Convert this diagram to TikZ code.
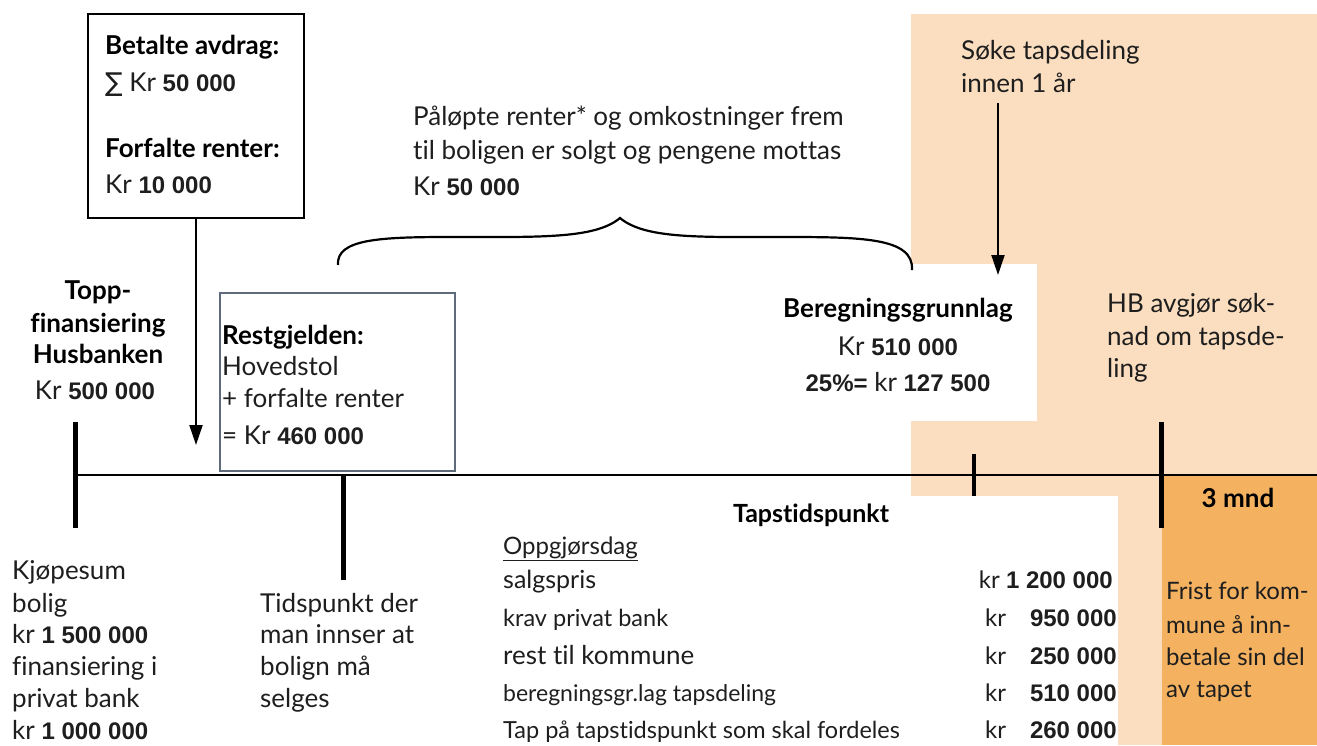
\documentclass[tikz,border=0pt]{standalone}
\usepackage{fontspec}
\setmainfont{Lato}[Ligatures=NoCommon]
\newfontfamily\numfont{Liberation Sans}
\newfontfamily\symfont{DejaVu Sans}
\usetikzlibrary{arrows.meta}
\definecolor{peach}{RGB}{251,222,192}
\definecolor{dorange}{RGB}{244,178,96}
\definecolor{boxgray}{RGB}{95,107,122}
\definecolor{txtc}{RGB}{30,30,30}
\newcommand\nb[1]{{\numfont\bfseries\fontsize{24}{30}\selectfont #1}}
\begin{document}
\begin{tikzpicture}[x=1pt,y=-1pt,
  txt/.style={font=\fontsize{26}{32}\selectfont, text=txtc, inner sep=0pt, text height=19pt, text depth=6pt, anchor=west},
  txtc/.style={txt, anchor=center},
  bld/.style={txt, font=\fontsize{26}{32}\selectfont\bfseries, text=black},
  bldc/.style={bld, anchor=center},
  tab/.style={txt, font=\fontsize{#1}{30}\selectfont},
  tick/.style={line width=5pt},
  arr/.style={line width=2pt, -{Triangle[length=20pt,width=13pt]}},
  frame/.style={draw, line width=2.5pt, inner sep=0pt}]
\useasboundingbox (0,0) rectangle (1317,745);
% shaded areas
\fill[peach] (911,14) rectangle (1317,496);
\fill[white] (911,264) rectangle (1037,421);
\fill[peach] (1118,496) rectangle (1162,745);
\fill[dorange] (1162,475) rectangle (1317,745);
% boxes
\node[frame, minimum width=216pt, minimum height=204pt] (avbox) at (196,116) {};
\node[frame, draw=boxgray, minimum width=235pt, minimum height=178pt] (restbox) at (337.5,382) {};
% timeline
\coordinate (tl0) at (75,475);
\coordinate (tl1) at (1317,475);
\draw[line width=2.5pt] (tl0) -- (tl1);
\coordinate (ta0) at (75,422);   \coordinate (ta1) at (75,528);
\coordinate (tb0) at (343,475);  \coordinate (tb1) at (343,580);
\coordinate (tc0) at (974,454);  \coordinate (tc1) at (974,496);
\coordinate (td0) at (1161,422); \coordinate (td1) at (1161,528);
\draw[tick] (ta0) -- (ta1);
\draw[tick] (tb0) -- (tb1);
\draw[line width=4pt] (tc0) -- (tc1);
\draw[tick] (td0) -- (td1);
% arrows
\coordinate (a1) at (196,445);
\draw[arr] (avbox.south) -- (a1);
\coordinate (a2s) at (998,103);
\coordinate (a2e) at (998,275);
\draw[arr] (a2s) -- (a2e);
% brace
\coordinate (brl) at (338,265);
\coordinate (brt) at (620,218);
\coordinate (brr) at (912,270);
\draw[line width=2.2pt] (brl) .. controls (336,239) and (380,237) .. (450,237)
  .. controls (540,237) and (595,239) .. (brt)
  .. controls (645,239) and (700,237) .. (780,237)
  .. controls (860,237) and (914,237) .. (brr);
% top box text
\node[bld] (t1) at (105,48) {Betalte avdrag:};
\node[txt] (t2) at (105,85) {{\symfont ∑} Kr \nb{50 000}};
\node[bld] (t3) at (105,151) {Forfalte renter:};
\node[txt] (t4) at (105,187) {Kr \nb{10 000}};
% Topp-finansiering
\node[bldc] (h1) at (98,293) {Topp-};
\node[bldc] (h2) at (98,326) {finansiering};
\node[bldc] (h3) at (98,357) {Husbanken};
\node[txtc] (h4) at (95,393) {Kr \nb{500 000}};
% Restgjelden
\node[bld] (r1) at (222,338) {Restgjelden:};
\node[txt] (r2) at (222,369) {Hovedstol};
\node[txt] (r3) at (222,401) {+ forfalte renter};
\node[txt] (r4) at (222,438) {= Kr \nb{460 000}};
% brace text
\node[txt] (p1) at (413,119) {Påløpte renter* og omkostninger frem};
\node[txt] (p2) at (413,153) {til boligen er solgt og pengene mottas};
\node[txt] (p3) at (413,189) {Kr \nb{50 000}};
% Søke
\node[txt] (s1) at (961,53) {Søke tapsdeling};
\node[txt] (s2) at (961,86) {innen 1 år};
% Beregningsgrunnlag
\node[bldc] (b1) at (898,311) {Beregningsgrunnlag};
\node[txtc] (b2) at (898,349) {Kr \nb{510 000}};
\node[txtc] (b3) at (898,385) {\nb{25\%=} kr \nb{127 500}};
% HB
\node[txt] (hb1) at (1107,306) {HB avgjør søk-};
\node[txt] (hb2) at (1107,339) {nad om tapsde-};
\node[txt] (hb3) at (1107,371) {ling};
% 3 mnd
\node[bldc] (m3) at (1238,501) {3 mnd};
% Frist
\node[tab=24] (f1) at (1166,593) {Frist for kom-};
\node[tab=24] (f2) at (1166,627) {mune å inn-};
\node[tab=24] (f3) at (1166,659) {betale sin del};
\node[tab=24] (f4) at (1166,691) {av tapet};
% Tapstidspunkt table
\node[bldc, font=\fontsize{25}{30}\selectfont\bfseries] (tp) at (811,516) {Tapstidspunkt};
\node[tab=24] (o0) at (503,548) {\underline{Oppgjørsdag}};
\node[tab=25] (o1) at (503,582) {salgspris};
\node[tab=23.5] (o2) at (503,620) {krav privat bank};
\node[tab=26] (o3) at (503,658) {rest til kommune};
\node[tab=23] (o4) at (503,695) {beregningsgr.lag tapsdeling};
\node[tab=23.5] (o5) at (503,732) {Tap på tapstidspunkt som skal fordeles};
\node[tab=24, anchor=east] (n1) at (1113,582) {kr \nb{1 200 000}};
\node[tab=24] (k2) at (985,620) {kr};
\node[tab=24] (k3) at (985,658) {kr};
\node[tab=24] (k4) at (985,695) {kr};
\node[tab=24] (k5) at (985,732) {kr};
\node[txt, anchor=east] (n2) at (1117,620) {\nb{950 000}};
\node[txt, anchor=east] (n3) at (1117,658) {\nb{250 000}};
\node[txt, anchor=east] (n4) at (1117,695) {\nb{510 000}};
\node[txt, anchor=east] (n5) at (1117,732) {\nb{260 000}};
% Kjøpesum
\node[txt] (k1a) at (12,573) {Kjøpesum};
\node[txt] (k1b) at (12,606) {bolig};
\node[txt] (k1c) at (12,637) {kr \nb{1 500 000}};
\node[txt] (k1d) at (12,669) {finansiering i};
\node[txt] (k1e) at (12,701) {privat bank};
\node[txt] (k1f) at (12,733) {kr \nb{1 000 000}};
% Tidspunkt
\node[txt] (d1) at (260,606) {Tidspunkt der};
\node[txt] (d2) at (260,637) {man innser at};
\node[txt] (d3) at (260,669) {bolign må};
\node[txt] (d4) at (260,701) {selges};
\end{tikzpicture}
\end{document}
